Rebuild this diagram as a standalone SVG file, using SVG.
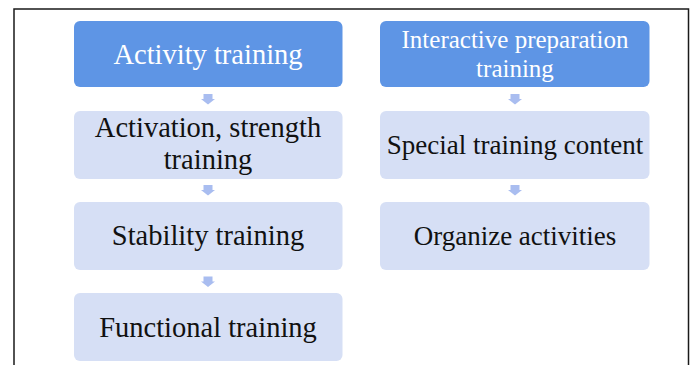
<svg xmlns="http://www.w3.org/2000/svg" width="694" height="365" viewBox="0 0 694 365">
  <style>
    .frame { fill: none; stroke: #1a1a1a; stroke-width: 1.5; }
    .head { fill: #5e95e5; }
    .step { fill: #d6dff5; }
    .arrow { fill: #a9bdf0; }
    text { font-family: "Liberation Serif", "Times New Roman", serif; text-anchor: middle; }
    .light { fill: #ffffff; }
    .dark { fill: #111111; }
  </style>
  <defs>
    <path id="down" d="M -4.5 0 H 4.5 V 5 H 7 L 0 10.5 L -7 5 H -4.5 Z"/>
  </defs>

  <rect width="694" height="365" fill="#ffffff"/>
  <rect class="frame" x="14" y="9" width="674.5" height="380"/>

  <!-- left column -->
  <g id="activity-training">
    <rect class="head" x="74" y="21" width="268.5" height="66" rx="6"/>
    <text class="light" x="208" y="64" font-size="28.5">Activity training</text>
  </g>
  <g id="activation-strength">
    <rect class="step" x="74" y="111" width="268.5" height="68" rx="6"/>
    <text class="dark" x="208" y="137" font-size="28.5">Activation, strength</text>
    <text class="dark" x="208" y="169" font-size="28.5">training</text>
  </g>
  <g id="stability-training">
    <rect class="step" x="74" y="202" width="268.5" height="68" rx="6"/>
    <text class="dark" x="208" y="245" font-size="28.5">Stability training</text>
  </g>
  <g id="functional-training">
    <rect class="step" x="74" y="293" width="268.5" height="68" rx="6"/>
    <text class="dark" x="208" y="337" font-size="28.5">Functional training</text>
  </g>

  <!-- right column -->
  <g id="interactive-preparation">
    <rect class="head" x="380" y="21" width="269.5" height="66" rx="6"/>
    <text class="light" x="515" y="48" font-size="25">Interactive preparation</text>
    <text class="light" x="515" y="77" font-size="25">training</text>
  </g>
  <g id="special-content">
    <rect class="step" x="380" y="111" width="269.5" height="68" rx="6"/>
    <text class="dark" x="515" y="154" font-size="27">Special training content</text>
  </g>
  <g id="organize-activities">
    <rect class="step" x="380" y="202" width="269.5" height="68" rx="6"/>
    <text class="dark" x="515" y="245" font-size="27">Organize activities</text>
  </g>

  <!-- connectors -->
  <g id="connectors" class="arrow">
    <use href="#down" x="208" y="94"/>
    <use href="#down" x="208" y="185"/>
    <use href="#down" x="208" y="276.5"/>
    <use href="#down" x="515" y="94"/>
    <use href="#down" x="515" y="185"/>
  </g>
</svg>
